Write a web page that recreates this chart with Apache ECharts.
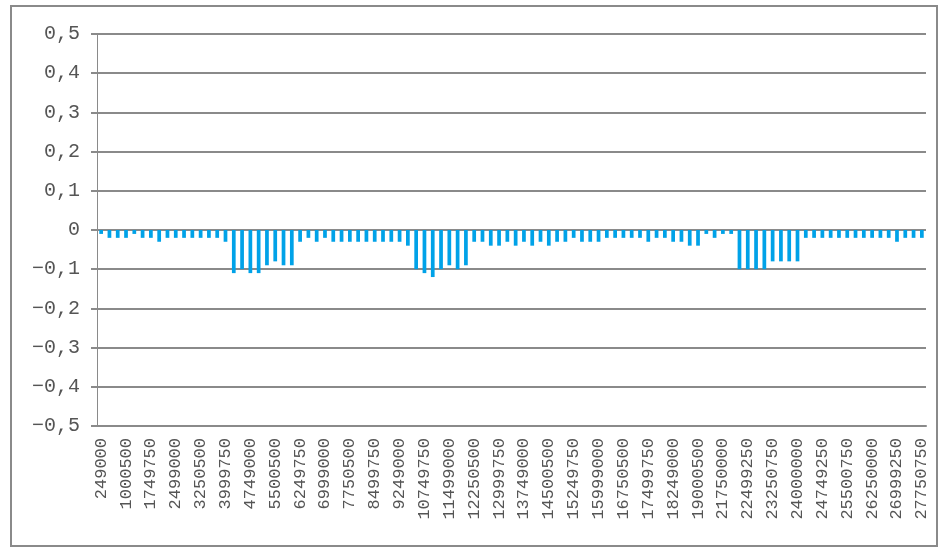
<!DOCTYPE html>
<html>
<head>
<meta charset="utf-8">
<script src="https://cdn.jsdelivr.net/npm/echarts@6/dist/echarts.min.js"></script>
<style>
  html, body { margin: 0; padding: 0; background: #fff; }
  #chart { width: 944px; height: 553px; }
</style>
</head>
<body>
<div id="chart"></div>
<script>
// 分类（横轴）
var categories = [
  249000, 499500, 750000, 1000500, 1250250, 1500000, 1749750, 1999500, 2249250, 2499000,
  2749500, 3000000, 3250500, 3500250, 3750000, 3999750, 4249500, 4499250, 4749000, 4999500,
  5250000, 5500500, 5750250, 6000000, 6249750, 6499500, 6749250, 6999000, 7249500, 7500000,
  7750500, 8000250, 8250000, 8499750, 8749500, 8999250, 9249000, 9499500, 10499250, 10749750,
  10999500, 11249250, 11499000, 11749500, 12000000, 12250500, 12500250, 12750000, 12999750, 13249500,
  13499250, 13749000, 13999500, 14250000, 14500500, 14750250, 15000000, 15249750, 15499500, 15749250,
  15999000, 16249500, 16500000, 16750500, 17000250, 17250000, 17499750, 17749500, 17999250, 18249000,
  18499500, 18750000, 19000500, 19250250, 21500250, 21750000, 21999750, 22249500, 22499250, 22749750,
  23000250, 23250750, 23499750, 23749500, 24000000, 24249750, 24499500, 24749250, 24999750, 25250250,
  25500750, 25750500, 26000250, 26250000, 26499750, 26749500, 26999250, 27249750, 27500250, 27750750
];
// 数值
var values = [
  -0.01, -0.02, -0.02, -0.02, -0.01, -0.02, -0.02, -0.03, -0.02, -0.02,
  -0.02, -0.02, -0.02, -0.02, -0.02, -0.03, -0.11, -0.10, -0.11, -0.11,
  -0.09, -0.08, -0.09, -0.09, -0.03, -0.02, -0.03, -0.02, -0.03, -0.03,
  -0.03, -0.03, -0.03, -0.03, -0.03, -0.03, -0.03, -0.04, -0.10, -0.11,
  -0.12, -0.10, -0.09, -0.10, -0.09, -0.03, -0.03, -0.04, -0.04, -0.03,
  -0.04, -0.03, -0.04, -0.03, -0.04, -0.03, -0.03, -0.02, -0.03, -0.03,
  -0.03, -0.02, -0.02, -0.02, -0.02, -0.02, -0.03, -0.02, -0.02, -0.03,
  -0.03, -0.04, -0.04, -0.01, -0.02, -0.01, -0.01, -0.10, -0.10, -0.10,
  -0.10, -0.08, -0.08, -0.08, -0.08, -0.02, -0.02, -0.02, -0.02, -0.02,
  -0.02, -0.02, -0.02, -0.02, -0.02, -0.02, -0.03, -0.02, -0.02, -0.02
];

(function () {
  var myChart = echarts.init(document.getElementById("chart"));
  var gridColor = "#8a8a8a";
  var option = {
    animation: false,
    backgroundColor: "#fff",
    graphic: [{
      type: "rect",
      shape: { x: 11, y: 6, width: 926, height: 540 },
      style: { fill: "none", stroke: gridColor, lineWidth: 2 }
    }],
    grid: {
      left: 97,
      right: 18,
      top: 34,
      bottom: 127
    },
    xAxis: {
      type: "category",
      data: categories,
      axisLine: {
        onZero: false,
        lineStyle: { color: gridColor, width: 2 }
      },
      axisTick: { show: false },
      axisLabel: {
        interval: 2,
        rotate: 90,
        margin: 12,
        color: "#555",
        fontFamily: "Liberation Mono",
        fontSize: 17
      }
    },
    yAxis: {
      type: "value",
      min: -0.5,
      max: 0.5,
      interval: 0.1,
      axisLine: {
        show: true,
        lineStyle: { color: gridColor, width: 1 }
      },
      axisTick: {
        show: true,
        length: 6,
        lineStyle: { color: gridColor, width: 2 }
      },
      axisLabel: {
        margin: 17,
        color: "#555",
        fontFamily: "Liberation Mono",
        fontSize: 20,
        formatter: function (v) {
          var s = Math.abs(v) < 1e-9 ? "0" : v.toFixed(1).replace(".", ",");
          return s.replace("-", "\u2212");
        }
      },
      // 分隔线
      splitLine: {
        lineStyle: { color: gridColor, width: 2 }
      }
    },
    series: [{
      type: "bar",
      data: values,
      barWidth: "45%",
      itemStyle: { color: "#00a2e8" }
    }]
  };
  myChart.setOption(option);
})();
</script>
</body>
</html>
